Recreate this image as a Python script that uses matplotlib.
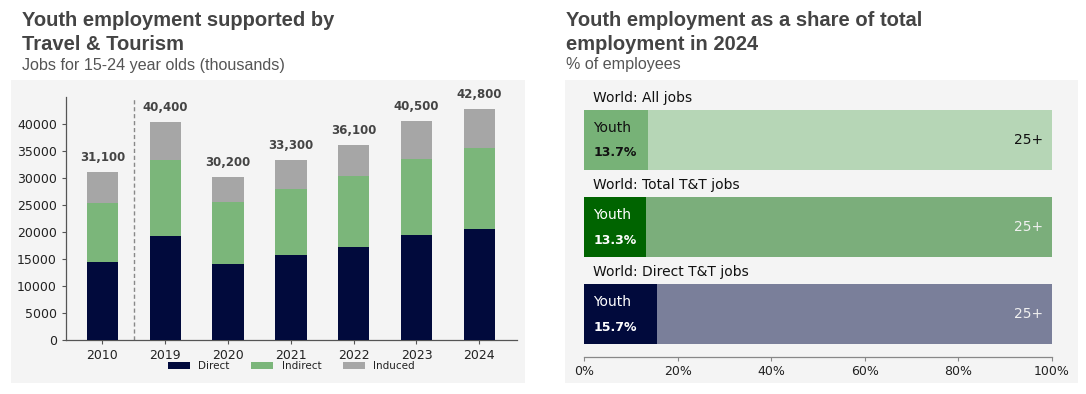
import matplotlib
matplotlib.use("Agg")
import matplotlib.pyplot as plt
from matplotlib.patches import Rectangle
import numpy as np

# ---- data: left chart ----
years = ["2010", "2019", "2020", "2021", "2022", "2023", "2024"]
direct = [14400, 19300, 14100, 15700, 17200, 19500, 20500]
indirect = [10900, 14100, 11500, 12300, 13100, 14000, 15000]
induced = [5800, 7000, 4600, 5300, 5800, 7000, 7300]
totals = [31100, 40400, 30200, 33300, 36100, 40500, 42800]
total_labels = ["31,100", "40,400", "30,200", "33,300", "36,100", "40,500", "42,800"]

# ---- data: right chart ----
groups = ["World: All jobs", "World: Total T&T jobs", "World: Direct T&T jobs"]
youth_share = [13.7, 13.3, 15.7]
youth_labels = ["13.7%", "13.3%", "15.7%"]
pct_ticks = [0, 20, 40, 60, 80, 100]
pct_ticklabels = ["0%", "20%", "40%", "60%", "80%", "100%"]

C_DIRECT = "#010a3c"
C_INDIRECT = "#7bb67a"
C_INDUCED = "#a6a6a6"
youth_colors = ["#77b277", "#006400", "#010a3c"]
rest_colors = ["#b6d6b6", "#7bae7b", "#7a7f9a"]
text_colors = ["#111111", "white", "white"]
rest_text_colors = ["#111111", "#f0f0f0", "#f0f0f0"]

W, H = 1086, 394
fig = plt.figure(figsize=(W / 100, H / 100), dpi=100)
fig.patch.set_facecolor("white")

def fx(px):
    return px / W

def fy(py):
    return 1 - py / H

# panel backgrounds
for x0, x1 in [(11, 525), (565, 1078)]:
    r = Rectangle((fx(x0), fy(383)), fx(x1) - fx(x0), (383 - 80) / H,
                  transform=fig.transFigure, facecolor="#f4f4f4",
                  edgecolor="none", zorder=-10)
    fig.add_artist(r)

title_font = ["Liberation Sans", "DejaVu Sans"]
TC = "#444444"
SC = "#555555"

# titles
fig.text(fx(22), fy(26), "Youth employment supported by", fontsize=14.5, fontweight="bold",
         color=TC, family=title_font, va="baseline", ha="left")
fig.text(fx(22), fy(49.5), "Travel & Tourism", fontsize=14.5, fontweight="bold",
         color=TC, family=title_font, va="baseline", ha="left")
fig.text(fx(22), fy(70), "Jobs for 15-24 year olds (thousands)", fontsize=11.6,
         color=SC, family=title_font, va="baseline", ha="left")

fig.text(fx(566), fy(26), "Youth employment as a share of total", fontsize=14.5, fontweight="bold",
         color=TC, family=title_font, va="baseline", ha="left")
fig.text(fx(566), fy(50), "employment in 2024", fontsize=14.5, fontweight="bold",
         color=TC, family=title_font, va="baseline", ha="left")
fig.text(fx(566), fy(69.5), "% of employees", fontsize=11.6,
         color=SC, family=title_font, va="baseline", ha="left")

# ---- left chart ----
ax = fig.add_axes([fx(66), fy(340), fx(517) - fx(66), (340 - 97) / H])
ax.set_facecolor("none")
x = np.arange(len(years))
bw = 0.5
ax.bar(x, direct, bw, color=C_DIRECT, label="Direct", zorder=3)
ax.bar(x, indirect, bw, bottom=direct, color=C_INDIRECT, label="Indirect", zorder=3)
bot2 = [d + i for d, i in zip(direct, indirect)]
ax.bar(x, induced, bw, bottom=bot2, color=C_INDUCED, label="Induced", zorder=3)
tops = [b + s for b, s in zip(bot2, induced)]
for xi, t, lab in zip(x, tops, total_labels):
    ax.annotate(lab, (xi, t), xytext=(0, 6), textcoords="offset points",
                ha="center", va="bottom", fontsize=8.5, fontweight="bold",
                color="#444444", annotation_clip=False)
ax.axvline(0.5, color="#888888", linestyle=(0, (3, 2)), linewidth=1.0, zorder=2)
ax.set_xlim(-0.58, 6.6)
ax.set_ylim(0, 45000)
ax.set_yticks([0, 5000, 10000, 15000, 20000, 25000, 30000, 35000, 40000])
ax.set_xticks(x)
ax.set_xticklabels(years)
ax.tick_params(axis="both", labelsize=9, length=3, color="#555555", labelcolor="#222222")
for s in ["top", "right"]:
    ax.spines[s].set_visible(False)
for s in ["left", "bottom"]:
    ax.spines[s].set_color("#555555")
    ax.spines[s].set_linewidth(0.9)
leg = ax.legend(loc="center", bbox_to_anchor=(0.5, -0.108), ncol=3, frameon=False,
                fontsize=7.5, handlelength=2.1, handleheight=0.7, columnspacing=2.1,
                handletextpad=0.8, borderaxespad=0)
for t in leg.get_texts():
    t.set_color("#222222")

# ---- right chart ----
ax2 = fig.add_axes([fx(584), fy(357), fx(1052) - fx(584), (357 - 85) / H])
ax2.set_facecolor("none")
ypos = np.arange(len(groups))
bh = 0.69
rest = [100 - v for v in youth_share]
ax2.barh(ypos, youth_share, bh, color=youth_colors, zorder=3)
ax2.barh(ypos, rest, bh, left=youth_share, color=rest_colors, zorder=3)
for yi, g, yl, tc, rc in zip(ypos, groups, youth_labels, text_colors, rest_text_colors):
    ax2.text(2.0, yi - bh / 2 - 0.06, g, ha="left", va="bottom", fontsize=10, color="#111111")
    ax2.text(2.0, yi - 0.14, "Youth", ha="left", va="center", fontsize=10, color=tc, zorder=4)
    ax2.text(2.0, yi + 0.15, yl, ha="left", va="center", fontsize=9, fontweight="bold",
             color=tc, zorder=4)
    ax2.text(98.0, yi, "25+", ha="right", va="center", fontsize=10, color=rc, zorder=4)
ax2.set_xlim(0, 100)
ax2.set_ylim(2.49, -0.63)
ax2.set_yticks([])
ax2.set_xticks(pct_ticks)
ax2.set_xticklabels(pct_ticklabels)
ax2.tick_params(axis="x", labelsize=9, length=3, pad=2.5, color="#888888", labelcolor="#222222")
for s in ["top", "right", "left"]:
    ax2.spines[s].set_visible(False)
ax2.spines["bottom"].set_color("#888888")
ax2.spines["bottom"].set_linewidth(0.9)

fig.savefig("out.png", dpi=100)
